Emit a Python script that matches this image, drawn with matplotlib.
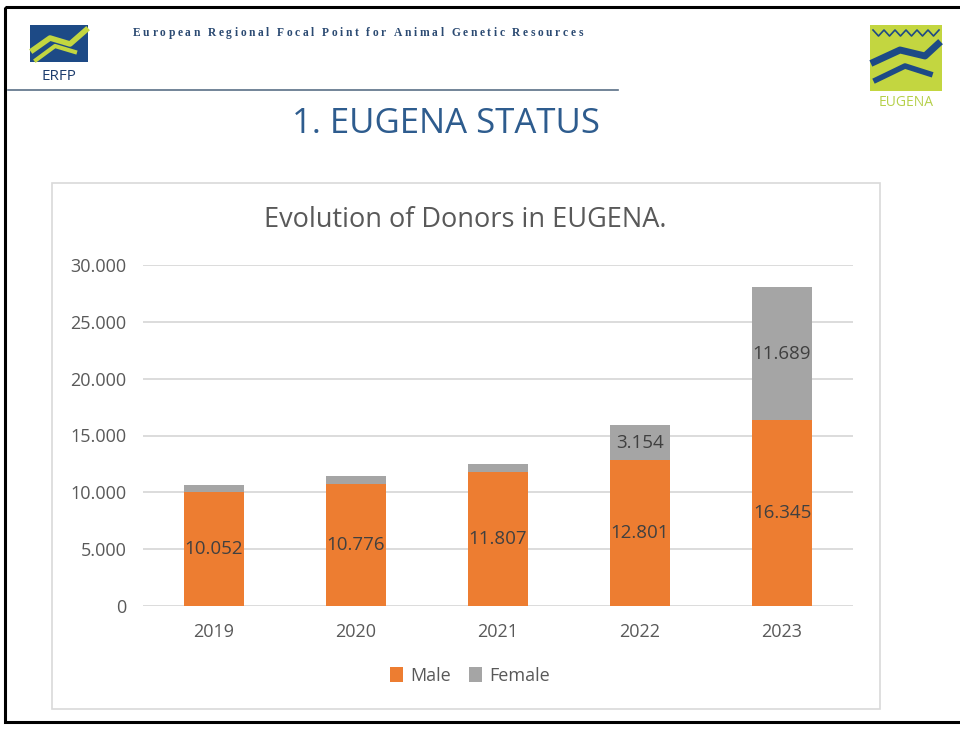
import numpy as np
import matplotlib.pyplot as plt
from matplotlib.patches import Rectangle

# data
years = ['2019', '2020', '2021', '2022', '2023']
male = [10052, 10776, 11807, 12801, 16345]
female = [560, 690, 650, 3154, 11689]
female_labels = [None, None, None, '3.154', '11.689']
yticks = [0, 5000, 10000, 15000, 20000, 25000, 30000]
ytick_labels = ['0', '5.000', '10.000', '15.000', '20.000', '25.000', '30.000']
header = 'European Regional Focal Point for Animal Genetic Resources'

W, H = 960, 731
fig = plt.figure(figsize=(W / 100, H / 100), dpi=100)
plt.rcParams['font.family'] = ['Open Sans', 'DejaVu Sans']

def px(x, y, w, h):
    """pixel box (top-left origin) -> figure fraction"""
    return [x / W, 1 - (y + h) / H, w / W, h / H]

# slide background / frame
bg = fig.add_axes([0, 0, 1, 1])
bg.set_xlim(0, W)
bg.set_ylim(H, 0)
bg.axis('off')
bg.add_patch(Rectangle((5, 7), 970, 715, fill=False, ec='black', lw=2.2))
bg.plot([8, 618], [90, 90], color='#5a6f86', lw=1.2)

# left logo (ERFP)
bg.add_patch(Rectangle((30, 25), 58, 37, fc='#1d4a86', ec='none'))
bg.plot([33, 50, 70, 86], [50, 38, 44, 30], color='#c3d640', lw=4)
bg.plot([36, 55, 75], [60, 46, 52], color='#c3d640', lw=3)
bg.text(59, 76, 'ERFP', ha='center', va='center', fontsize=11, color='#1d3d6e')

# letter-spaced header, one character at a time
renderer = fig.canvas.get_renderer()
hx = 133.0
for ch in header:
    t = bg.text(hx, 33, ch, ha='left', va='center', fontsize=8.3, color='#2b4a72',
                family=['Liberation Serif', 'DejaVu Serif'], fontweight='bold')
    w = t.get_window_extent(renderer).width if ch != ' ' else 2.5
    hx += w + 2.6

# right logo (EUGENA)
bg.add_patch(Rectangle((870, 25), 72, 66, fc='#c3d640', ec='none'))
bg.plot(np.linspace(873, 939, 13), [30, 36] * 6 + [30], color='#1d4a86', lw=1.2)
bg.plot([874, 900, 925, 938], [62, 50, 56, 44], color='#1d4a86', lw=5)
bg.plot([876, 905, 930], [80, 66, 74], color='#1d4a86', lw=4)
bg.text(906, 103, 'EUGENA', ha='center', va='center', fontsize=10, color='#b5d04a')

# slide title
bg.text(446, 124, '1. EUGENA STATUS', ha='center', va='center', fontsize=25,
        color='#2e5c8e')

# chart box
bg.add_patch(Rectangle((52, 183), 828, 526, fill=False, ec='#d9d9d9', lw=1.2))
bg.text(465, 220, 'Evolution of Donors in EUGENA.', ha='center', va='center',
        fontsize=19.5, color='#595959')

# chart
ax = fig.add_axes(px(143, 265, 710, 341))
x = np.arange(len(years))
ax.bar(x, male, width=0.42, color='#ed7d31', label='Male', zorder=3)
ax.bar(x, female, width=0.42, bottom=male, color='#a5a5a5', label='Female', zorder=3)

for i in range(len(years)):
    ax.text(x[i], male[i] / 2, f'{male[i] / 1000:.3f}', ha='center', va='center',
            fontsize=13.5, color='#404040', zorder=4)
    if female_labels[i]:
        ax.text(x[i], male[i] + female[i] / 2, female_labels[i], ha='center',
                va='center', fontsize=13.5, color='#404040', zorder=4)

ax.set_xlim(-0.5, len(years) - 0.5)
ax.set_ylim(0, 30000)
ax.set_yticks(yticks)
ax.set_yticklabels(ytick_labels)
ax.set_xticks(x)
ax.set_xticklabels(years)
ax.grid(axis='y', color='#d9d9d9', lw=1.3, zorder=0)
for s in ax.spines.values():
    s.set_visible(False)
ax.tick_params(length=0, labelsize=13, colors='#595959')
ax.tick_params(axis='y', pad=12)
ax.tick_params(axis='x', pad=12)

handles, labels = ax.get_legend_handles_labels()
fig.legend(handles, labels, loc='center', bbox_to_anchor=(470 / W, 1 - 676 / H), ncol=2,
           frameon=False, fontsize=13, labelcolor='#595959', handlelength=0.7,
           handleheight=0.9, handletextpad=0.4, columnspacing=1.0)

fig.savefig('out.png', dpi=100)
